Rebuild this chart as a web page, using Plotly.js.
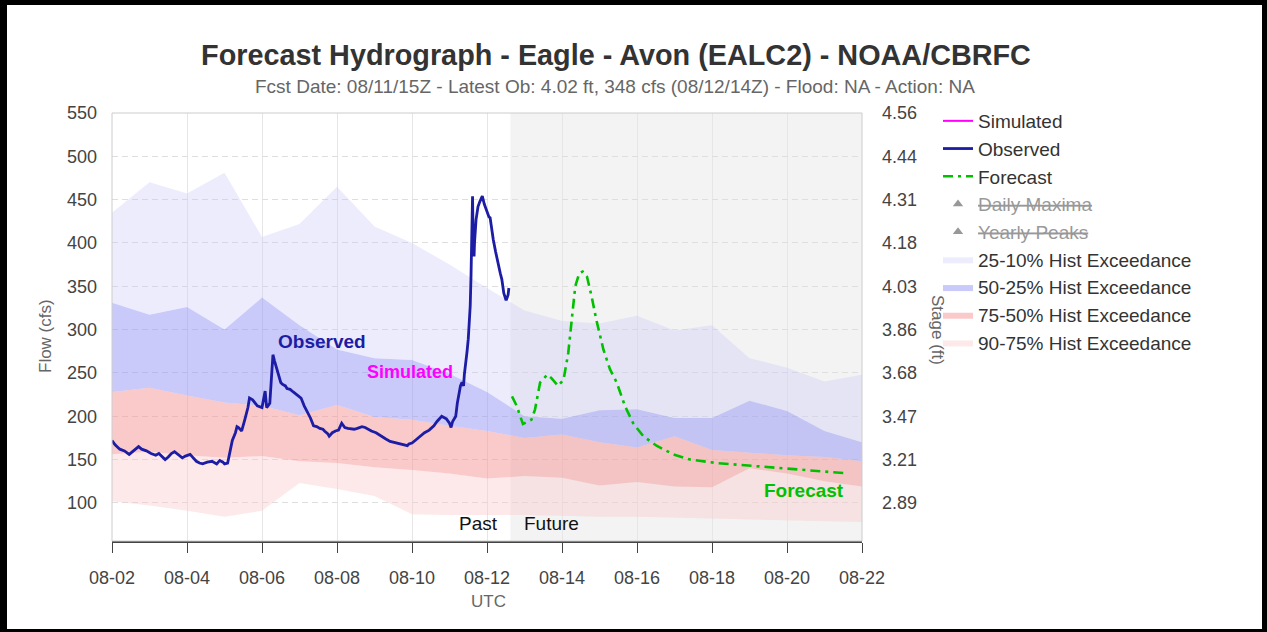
<!DOCTYPE html>
<html>
<head>
<meta charset="utf-8">
<script src="https://cdn.plot.ly/plotly-3.0.1.min.js"></script>
<style>
  html, body { margin: 0; padding: 0; background: #fff; }
  #chart { width: 1267px; height: 632px; }
  #frame { position: absolute; left: 0; top: 0; width: 1267px; height: 632px; box-sizing: border-box;
           border-top: 5px solid #000; border-left: 7px solid #000; border-right: 5px solid #000; border-bottom: 3px solid #000;
           pointer-events: none; }
</style>
</head>
<body>
<div id="chart"></div>
<div id="frame"></div>
<script>
// ---------- DATA ----------
const bandDates = ['2015-08-02','2015-08-03','2015-08-04','2015-08-05','2015-08-06','2015-08-07','2015-08-08',
  '2015-08-09','2015-08-10','2015-08-11','2015-08-12','2015-08-13','2015-08-14','2015-08-15','2015-08-16',
  '2015-08-17','2015-08-18','2015-08-19','2015-08-20','2015-08-21','2015-08-22'];
const exc90 = [102, 97, 91, 84, 91, 123, 116, 108, 87, 86, 86, 86, 85, 84, 84, 83, 82, 81, 80, 79, 78];
const exc75 = [156, 159, 155, 152, 154, 148, 146, 141, 138, 134, 128, 131, 129, 120, 124, 119, 118, 140, 134, 125, 119];
const exc50 = [228, 233, 224, 216, 212, 201, 213, 199, 196, 189, 183, 175, 179, 170, 164, 177, 161, 158, 155, 153, 148];
const exc25 = [331, 317, 326, 300, 337, 305, 277, 267, 265, 249, 228, 200, 197, 207, 208, 198, 198, 218, 206, 183, 170];
const exc10 = [435, 470, 457, 481, 407, 422, 465, 419, 400, 375, 348, 322, 310, 307, 316, 299, 305, 267, 256, 240, 248];

const obsTime = [
 '2015-08-02 00:00','2015-08-02 02:00','2015-08-02 05:00','2015-08-02 08:00','2015-08-02 11:00','2015-08-02 13:00',
 '2015-08-02 17:00','2015-08-02 19:00','2015-08-02 22:00','2015-08-03 01:00','2015-08-03 04:00','2015-08-03 06:00',
 '2015-08-03 08:00','2015-08-03 10:00','2015-08-03 12:00','2015-08-03 14:00','2015-08-03 16:00','2015-08-03 19:00',
 '2015-08-03 21:00','2015-08-03 23:00','2015-08-04 02:00','2015-08-04 04:00','2015-08-04 06:00','2015-08-04 08:00',
 '2015-08-04 10:00','2015-08-04 13:00','2015-08-04 16:00','2015-08-04 19:00','2015-08-04 21:00','2015-08-04 23:00',
 '2015-08-05 00:00','2015-08-05 02:00','2015-08-05 04:00','2015-08-05 05:00','2015-08-05 07:00','2015-08-05 08:00',
 '2015-08-05 09:00','2015-08-05 11:00','2015-08-05 13:00','2015-08-05 15:00','2015-08-05 16:00','2015-08-05 18:00',
 '2015-08-05 21:00','2015-08-06 00:00','2015-08-06 02:00','2015-08-06 03:00','2015-08-06 05:00','2015-08-06 06:00',
 '2015-08-06 07:00','2015-08-06 08:00','2015-08-06 09:00','2015-08-06 12:00','2015-08-06 13:00','2015-08-06 15:00',
 '2015-08-06 16:00','2015-08-06 18:00','2015-08-06 20:00','2015-08-06 22:00','2015-08-07 00:00','2015-08-07 01:00',
 '2015-08-07 03:00','2015-08-07 05:00','2015-08-07 07:00','2015-08-07 09:00','2015-08-07 11:00','2015-08-07 13:00',
 '2015-08-07 15:00','2015-08-07 16:00','2015-08-07 18:00','2015-08-07 19:00','2015-08-07 21:00','2015-08-07 23:00',
 '2015-08-08 01:00','2015-08-08 03:00','2015-08-08 05:00','2015-08-08 07:00','2015-08-08 11:00','2015-08-08 13:00',
 '2015-08-08 16:00','2015-08-08 18:00','2015-08-08 20:00','2015-08-08 22:00','2015-08-09 01:00','2015-08-09 04:00',
 '2015-08-09 07:00','2015-08-09 10:00','2015-08-09 12:00','2015-08-09 15:00','2015-08-09 18:00','2015-08-09 21:00',
 '2015-08-09 22:00','2015-08-10 00:00','2015-08-10 02:00','2015-08-10 04:00','2015-08-10 06:00','2015-08-10 08:00',
 '2015-08-10 11:00','2015-08-10 14:00','2015-08-10 16:00','2015-08-10 19:00','2015-08-10 21:00','2015-08-10 22:00',
 '2015-08-11 00:00','2015-08-11 01:00','2015-08-11 02:00','2015-08-11 04:00','2015-08-11 05:00','2015-08-11 06:00',
 '2015-08-11 07:00','2015-08-11 08:00','2015-08-11 09:00','2015-08-11 09:30','2015-08-11 10:15','2015-08-11 11:15',
 '2015-08-11 12:00','2015-08-11 12:45','2015-08-11 13:15','2015-08-11 13:45','2015-08-11 14:15','2015-08-11 14:45',
 '2015-08-11 15:00','2015-08-11 15:15','2015-08-11 15:45','2015-08-11 16:00','2015-08-11 17:00','2015-08-11 18:15',
 '2015-08-11 19:30','2015-08-11 21:00','2015-08-11 22:15','2015-08-11 23:45','2015-08-12 01:15','2015-08-12 02:00',
 '2015-08-12 03:00','2015-08-12 04:00','2015-08-12 05:30','2015-08-12 07:15','2015-08-12 08:30','2015-08-12 09:30',
 '2015-08-12 10:45','2015-08-12 12:00','2015-08-12 12:30','2015-08-12 13:30','2015-08-12 14:00'];
const obsFlow = [
 172,167,162,160,156,159, 165,162,160,157,155,157, 153,150,153,157,159,155, 152,154,156,152,148,146,
 145,147,148,145,149,147, 145,146,164,172,181,188, 187,183,196,210,221,219, 212,210,229,210,215,245,
 271,264,258,239,237,235, 232,231,228,225,222,221, 212,205,198,189,188,186, 185,183,180,177,181,183,
 184,192,187,186,185,186, 188,187,185,183,181,177, 174,171,170,169,167,166, 168,169,172,175,178,181,
 184,189,194,200,198,197, 192,187,194,200,215,227, 235,239,235,248,258,275, 289,310,327,360,396,454,
 420,386,386,400,427,442, 448,454,445,436,430,429, 415,404,390,373,365,358, 342,335,335,340,348];

const fcstTime = [
 '2015-08-12 16:00','2015-08-12 19:00','2015-08-12 23:00','2015-08-13 04:30','2015-08-13 06:45','2015-08-13 10:00',
 '2015-08-13 14:40','2015-08-13 17:15','2015-08-13 21:30','2015-08-14 01:00','2015-08-14 04:00','2015-08-14 06:15',
 '2015-08-14 08:30','2015-08-14 11:00','2015-08-14 13:15','2015-08-14 16:00','2015-08-14 19:00','2015-08-14 22:00',
 '2015-08-15 02:30','2015-08-15 06:45','2015-08-15 11:00','2015-08-15 16:15','2015-08-15 21:30','2015-08-16 04:00',
 '2015-08-16 12:30','2015-08-16 23:15','2015-08-17 10:00','2015-08-18 03:00','2015-08-19 00:15','2015-08-19 23:45',
 '2015-08-20 23:15','2015-08-21 15:00'];
const fcstFlow = [223,212,191,196,208,239, 248,244,235,242,273,311, 350,365,367,361,338,311,
 277,254,239,212,192,177, 166,156,150,146,143,140, 137,134];

const flowTicks = [100,150,200,250,300,350,400,450,500,550];
const stageTicks = ['2.89','3.21','3.47','3.68','3.86','4.03','4.18','4.31','4.44','4.56'];
const xTicks = ['2015-08-02','2015-08-04','2015-08-06','2015-08-08','2015-08-10','2015-08-12',
  '2015-08-14','2015-08-16','2015-08-18','2015-08-20','2015-08-22'];
const futureStart = '2015-08-12 15:00';
const futureEnd = '2015-08-22';

// ---------- STYLE ----------
const FONT = '"Liberation Sans", Arial, Helvetica, sans-serif';
const C_OBS = '#1c1ca4', C_SIM = '#ff00ff', C_FC = '#00c000';

const traces = [
  {x: bandDates, y: exc90, type: 'scatter', mode: 'lines', line: {width: 0}, showlegend: false, hoverinfo: 'skip'},
  {x: bandDates, y: exc75, type: 'scatter', mode: 'lines', line: {width: 0}, fill: 'tonexty',
   fillcolor: 'rgba(250,200,200,0.40)', name: '90-75% Hist Exceedance', legendrank: 9, legendgroup: 'g9'},
  {x: bandDates, y: exc50, type: 'scatter', mode: 'lines', line: {width: 0}, fill: 'tonexty',
   fillcolor: 'rgba(245,150,150,0.50)', name: '75-50% Hist Exceedance', legendrank: 8, legendgroup: 'g8'},
  {x: bandDates, y: exc25, type: 'scatter', mode: 'lines', line: {width: 0}, fill: 'tonexty',
   fillcolor: 'rgba(150,150,245,0.50)', name: '50-25% Hist Exceedance', legendrank: 7, legendgroup: 'g7'},
  {x: bandDates, y: exc10, type: 'scatter', mode: 'lines', line: {width: 0}, fill: 'tonexty',
   fillcolor: 'rgba(200,200,250,0.35)', name: '25-10% Hist Exceedance', legendrank: 6, legendgroup: 'g6'},
  {x: [null], y: [null], type: 'scatter', mode: 'lines', line: {color: C_SIM, width: 2}, name: 'Simulated', legendrank: 1, legendgroup: 'g1'},
  {x: obsTime, y: obsFlow, type: 'scatter', mode: 'lines', line: {color: C_OBS, width: 2.8}, name: 'Observed', legendrank: 2, legendgroup: 'g2'},
  {x: fcstTime, y: fcstFlow, type: 'scatter', mode: 'lines', line: {color: C_FC, width: 2.6, dash: '10px,5px,3px,5px'}, name: 'Forecast', legendrank: 3, legendgroup: 'g3'},
  {x: [null], y: [null], type: 'scatter', mode: 'markers', marker: {symbol: 'triangle-up', color: '#333', size: 9},
   name: '<s>Daily Maxima</s>', visible: 'legendonly', legendrank: 4, legendgroup: 'g4'},
  {x: [null], y: [null], type: 'scatter', mode: 'markers', marker: {symbol: 'triangle-up', color: '#333', size: 9},
   name: '<s>Yearly Peaks</s>', visible: 'legendonly', legendrank: 5, legendgroup: 'g5'},
  {x: [null], y: [null], yaxis: 'y2', type: 'scatter', mode: 'lines', showlegend: false, hoverinfo: 'skip'}
];

const PL = 112, PR = 862, PT = 113, PB = 541, W = 1267, H = 632;
const px = v => (v - PL) / (PR - PL);
const py = v => (PB - v) / (PB - PT);

const layout = {
  width: W, height: H,
  margin: {l: PL, r: W - PR, t: PT, b: H - PB, pad: 0},
  paper_bgcolor: '#fff', plot_bgcolor: 'rgba(0,0,0,0)',
  font: {family: FONT, color: '#333'},
  showlegend: true,
  title: {text: '<b>Forecast Hydrograph - Eagle - Avon (EALC2) - NOAA/CBRFC</b>', xref: 'container', yref: 'container',
          x: 616 / W, xanchor: 'center', y: 1 - 55 / H, yanchor: 'middle', font: {size: 28.8, color: '#333', family: FONT}},
  xaxis: {type: 'date', range: ['2015-08-02', '2015-08-22'], tickvals: xTicks, tickformat: '%m-%d',
          showgrid: true, gridcolor: '#e6e6e6', gridwidth: 1, zeroline: false,
          showline: true, linecolor: '#444', linewidth: 1.5, ticks: 'outside', ticklen: 10, tickcolor: '#444',
          tickfont: {size: 18, color: '#444'}, ticklabelstandoff: 10, fixedrange: true},
  yaxis: {range: [56, 550], tickvals: flowTicks, showgrid: true, gridcolor: '#dedede', griddash: '6px,4px',
          zeroline: false, showline: false, ticks: '', tickfont: {size: 18, color: '#444'}, ticklabelstandoff: 14, fixedrange: true},
  yaxis2: {range: [56, 550], overlaying: 'y', side: 'right', tickvals: flowTicks, ticktext: stageTicks,
           showgrid: false, zeroline: false, showline: false, ticks: '', tickfont: {size: 18, color: '#444'},
           ticklabelstandoff: 19, fixedrange: true},
  legend: {x: px(938), xanchor: 'left', y: py(102), yanchor: 'top', bgcolor: 'rgba(0,0,0,0)',
           font: {size: 19, color: '#333'}, traceorder: 'normal', tracegroupgap: 0, itemwidth: 30},
  shapes: [
    {type: 'rect', xref: 'x', yref: 'paper', x0: futureStart, x1: futureEnd, y0: 0, y1: 1,
     fillcolor: '#f3f3f3', line: {width: 0}, layer: 'below'},
    {type: 'rect', xref: 'paper', yref: 'paper', x0: 0, x1: 1, y0: 0, y1: 1, line: {color: '#cccccc', width: 1}, layer: 'above'}
  ],
  annotations: [
    {text: 'Fcst Date: 08/11/15Z - Latest Ob: 4.02 ft, 348 cfs (08/12/14Z) - Flood: NA - Action: NA',
     xref: 'paper', yref: 'paper', x: px(615), y: py(86), xanchor: 'center', yanchor: 'middle', showarrow: false,
     font: {size: 19, color: '#666'}},
    {text: 'Flow (cfs)', xref: 'paper', yref: 'paper', x: px(45), y: py(336), textangle: -90, showarrow: false,
     xanchor: 'center', yanchor: 'middle', font: {size: 17, color: '#666'}},
    {text: 'Stage (ft)', xref: 'paper', yref: 'paper', x: px(938), y: py(330), textangle: 90, showarrow: false,
     xanchor: 'center', yanchor: 'middle', font: {size: 17, color: '#666'}},
    {text: 'UTC', xref: 'paper', yref: 'paper', x: px(488), y: py(601), showarrow: false,
     xanchor: 'center', yanchor: 'middle', font: {size: 17, color: '#666'}},
    {text: '<b>Observed</b>', xref: 'paper', yref: 'paper', x: px(322), y: py(341), showarrow: false,
     xanchor: 'center', yanchor: 'middle', font: {size: 19, color: C_OBS}},
    {text: '<b>Simulated</b>', xref: 'paper', yref: 'paper', x: px(410), y: py(372), showarrow: false,
     xanchor: 'center', yanchor: 'middle', font: {size: 18, color: C_SIM}},
    {text: '<b>Forecast</b>', xref: 'paper', yref: 'paper', x: px(804), y: py(490), showarrow: false,
     xanchor: 'center', yanchor: 'middle', font: {size: 19, color: C_FC}},
    {text: 'Past', xref: 'x', yref: 'paper', x: futureStart, xshift: -10, y: py(523), showarrow: false,
     xanchor: 'right', yanchor: 'middle', font: {size: 19, color: '#111'}},
    {text: 'Future', xref: 'x', yref: 'paper', x: futureStart, xshift: 12, y: py(523), showarrow: false,
     xanchor: 'left', yanchor: 'middle', font: {size: 19, color: '#111'}}
  ]
};

Plotly.newPlot('chart', traces, layout, {displayModeBar: false, staticPlot: true});
</script>
</body>
</html>
